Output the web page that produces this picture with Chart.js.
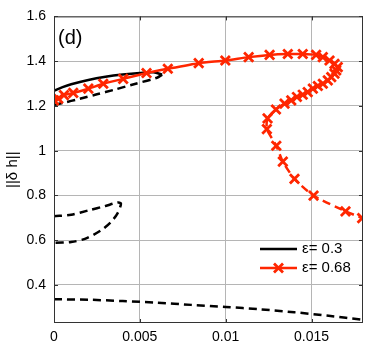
<!DOCTYPE html>
<html>
<head>
<meta charset="utf-8">
<script src="https://cdn.jsdelivr.net/npm/chart.js@4.4.1/dist/chart.umd.min.js"></script>
<style>
  html, body { margin: 0; padding: 0; background: #fff; }
  #wrap { width: 374px; height: 347px; }
</style>
</head>
<body>
<div id="wrap"><canvas id="normChart"></canvas></div>
<script>
const xTicks = [0, 0.005, 0.01, 0.015];
const yTicks = [0.4, 0.6, 0.8, 1, 1.2, 1.4, 1.6];
const seriesLabels = ["ε= 0.3", "ε= 0.68"];
const panelLabel = "(d)";
const yTitle = "||δ h||";

// eps = 0.68 branch (red, with markers)
const redX = [0, 0.00025, 0.00058, 0.00112, 0.0020, 0.00287, 0.00403, 0.00539, 0.00663, 0.00843,
  0.00998, 0.01134, 0.01256, 0.01362, 0.01449, 0.01527, 0.01566, 0.01605, 0.01634, 0.01653,
  0.01644, 0.01634, 0.01615, 0.01595, 0.01566, 0.01537, 0.01508, 0.01478, 0.01449, 0.01415,
  0.01382, 0.01343, 0.01293, 0.01244, 0.0124, 0.01295, 0.01333, 0.01401, 0.01512, 0.01698, 0.01795];
const redY = [1.225, 1.232, 1.248, 1.258, 1.277, 1.299, 1.321, 1.347, 1.366, 1.391,
  1.403, 1.418, 1.428, 1.432, 1.432, 1.428, 1.418, 1.403, 1.388, 1.373,
  1.359, 1.344, 1.329, 1.314, 1.299, 1.289, 1.277, 1.262, 1.250, 1.240,
  1.225, 1.210, 1.184, 1.144, 1.096, 1.022, 0.951, 0.874, 0.799, 0.729, 0.699];
const redDashFrom = 33;

// eps = 0.3 (black), stable part solid
const blackSolidX = [0, 0.0005, 0.001, 0.002, 0.003, 0.004, 0.005, 0.0058, 0.0063];
const blackSolidY = [1.268, 1.284, 1.297, 1.316, 1.330, 1.340, 1.347, 1.350, 1.340];
// unstable parts dashed
const blackDash1X = [0.0063, 0.006, 0.0046, 0.0035, 0.0025, 0.0015, 0.0005, 0];
const blackDash1Y = [1.340, 1.326, 1.296, 1.272, 1.252, 1.232, 1.213, 1.204];
const blackDash2X = [0, 0.001, 0.002, 0.003, 0.0037, 0.0039, 0.0037, 0.0033, 0.0027, 0.0018, 0.001, 0];
const blackDash2Y = [0.707, 0.714, 0.733, 0.753, 0.768, 0.764, 0.72, 0.68, 0.642, 0.606, 0.592, 0.588];
const blackDash3X = [0, 0.002, 0.004, 0.006, 0.008, 0.01, 0.012, 0.014, 0.016, 0.018];
const blackDash3Y = [0.336, 0.334, 0.328, 0.321, 0.311, 0.302, 0.291, 0.278, 0.262, 0.244];

const pts = (xs, ys) => xs.map((x, i) => ({ x: x, y: ys[i] }));
const RED = "rgb(255,38,0)";
const FONT = "'Liberation Sans', Arial, sans-serif";

const overlay = {
  id: "overlay",
  afterDatasetsDraw(chart) {
    const c = chart.ctx, a = chart.chartArea;
    const xs = chart.scales.x, ys = chart.scales.y;
    c.save();
    // box + inward ticks
    c.strokeStyle = "#333";
    c.lineWidth = 1;
    c.strokeRect(a.left + 0.5, a.top + 0.5, a.right - a.left - 1, a.bottom - a.top - 1);
    c.beginPath();
    xTicks.forEach(v => {
      const p = Math.round(xs.getPixelForValue(v)) + 0.5;
      c.moveTo(p, a.bottom); c.lineTo(p, a.bottom - 4);
      c.moveTo(p, a.top); c.lineTo(p, a.top + 4);
    });
    yTicks.forEach(v => {
      const p = Math.round(ys.getPixelForValue(v)) + 0.5;
      c.moveTo(a.left, p); c.lineTo(a.left + 4, p);
      c.moveTo(a.right, p); c.lineTo(a.right - 4, p);
    });
    c.stroke();
    // panel label
    c.fillStyle = "#000";
    c.font = "20px " + FONT;
    c.textBaseline = "alphabetic";
    c.fillText(panelLabel, a.left + 4, a.top + 28);
    // legend
    const lx0 = a.right - 103, lx1 = a.right - 66, tx = a.right - 61;
    const rows = [a.bottom - 74, a.bottom - 55];
    c.font = "15px " + FONT;
    c.textBaseline = "middle";
    c.lineWidth = 2.5;
    c.strokeStyle = "#000";
    c.beginPath(); c.moveTo(lx0, rows[0]); c.lineTo(lx1, rows[0]); c.stroke();
    c.fillText(seriesLabels[0], tx, rows[0]);
    c.strokeStyle = RED;
    c.beginPath(); c.moveTo(lx0, rows[1]); c.lineTo(lx1, rows[1]); c.stroke();
    const mx = (lx0 + lx1) / 2, r = 4.5;
    c.lineWidth = 2.8;
    c.beginPath();
    c.moveTo(mx - r, rows[1] - r); c.lineTo(mx + r, rows[1] + r);
    c.moveTo(mx - r, rows[1] + r); c.lineTo(mx + r, rows[1] - r);
    c.stroke();
    c.fillText(seriesLabels[1], tx, rows[1]);
    c.restore();
  }
};

const blackDashed = (data) => ({
  data: data, borderColor: "#000", borderWidth: 2.5, borderDash: [8, 5],
  pointRadius: 0, showLine: true, tension: 0.3, fill: false
});

new Chart(document.getElementById("normChart"), {
  type: "scatter",
  data: {
    datasets: [
      {
        label: seriesLabels[1],
        data: pts(redX, redY),
        borderColor: RED,
        backgroundColor: RED,
        borderWidth: 2.5,
        showLine: true,
        tension: 0.2,
        pointStyle: "crossRot",
        pointRadius: 6.5,
        pointBorderWidth: 2.8,
        pointBorderColor: RED,
        segment: {
          borderDash: ctx => ctx.p0DataIndex >= redDashFrom ? [8, 5] : undefined
        }
      },
      {
        label: seriesLabels[0],
        data: pts(blackSolidX, blackSolidY),
        borderColor: "#000", borderWidth: 2.5, pointRadius: 0,
        showLine: true, tension: 0.3, fill: false
      },
      blackDashed(pts(blackDash1X, blackDash1Y)),
      blackDashed(pts(blackDash2X, blackDash2Y)),
      blackDashed(pts(blackDash3X, blackDash3Y))
    ]
  },
  options: {
    responsive: true,
    maintainAspectRatio: false,
    animation: false,
    layout: { padding: { left: 0, right: 11, top: 14, bottom: 0 } },
    plugins: { legend: { display: false }, tooltip: { enabled: false } },
    scales: {
      x: {
        type: "linear",
        min: 0,
        max: 0.018,
        afterBuildTicks: s => { s.ticks = xTicks.map(v => ({ value: v })); },
        afterFit: s => { s.height = 24; },
        grid: { color: "#b5b5b5", borderDash: [1, 3], drawTicks: false, lineWidth: 1 },
        border: { display: false },
        ticks: {
          color: "#000", padding: 6, maxRotation: 0,
          font: { family: FONT, size: 14 },
          callback: v => String(+v.toFixed(3))
        }
      },
      y: {
        type: "linear",
        min: 0.23,
        max: 1.6,
        afterBuildTicks: s => { s.ticks = yTicks.map(v => ({ value: v })); },
        afterFit: s => { s.width = 54; },
        grid: { color: "#b5b5b5", borderDash: [1, 3], drawTicks: false, lineWidth: 1 },
        border: { display: false },
        title: {
          display: true, text: yTitle, color: "#000",
          font: { family: FONT, size: 15 }, padding: { top: 4, bottom: 0 }
        },
        ticks: {
          color: "#000", padding: 8,
          font: { family: FONT, size: 14 },
          callback: v => String(+v.toFixed(2))
        }
      }
    }
  },
  plugins: [overlay]
});
</script>
</body>
</html>
